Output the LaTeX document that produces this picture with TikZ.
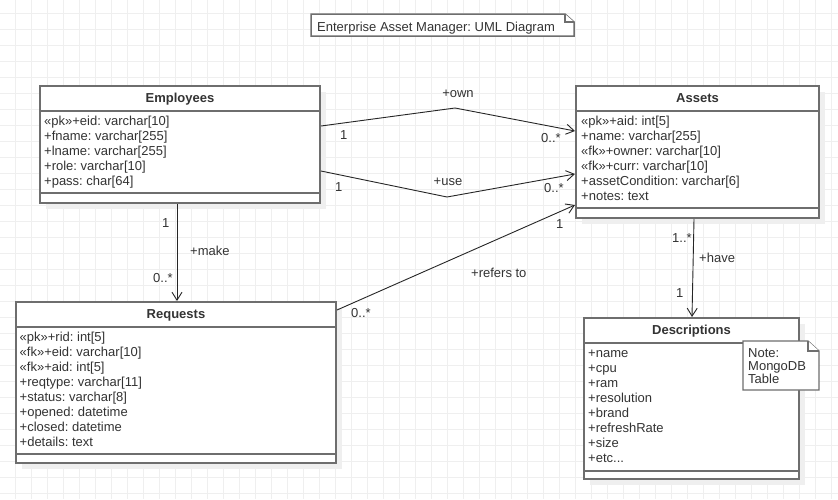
\documentclass[tikz,border=0pt]{standalone}
\usepackage{fontspec}
\setmainfont{Liberation Sans}
\frenchspacing
\usetikzlibrary{arrows.meta,shadows}
\definecolor{boxgray}{HTML}{6E6E6E}
\definecolor{gridgray}{HTML}{EFEFEF}
\definecolor{inkgray}{HTML}{333333}
\tikzset{
    classbox/.style={draw=boxgray, line width=2pt, fill=white, anchor=north west, inner sep=0pt,
        drop shadow={shadow xshift=6pt, shadow yshift=-6pt, fill=gridgray, opacity=1}},
    boxline/.style={draw=boxgray, line width=2pt},
    notebox/.style={draw=boxgray, line width=1.5pt, fill=white, line join=miter},
    gridline/.style={draw=gridgray, line width=1pt},
    classname/.style={anchor=base, inner sep=0pt, font=\fontsize{13}{15}\selectfont\bfseries, text=inkgray},
    attr/.style={anchor=base west, inner sep=0pt, text=inkgray},
    mult/.style={anchor=base west, inner sep=0pt, text=inkgray},
    assoc/.style={draw=black!85, line width=0.9pt},
    navarrow/.style={assoc, -{Straight Barb[length=8pt, width=10pt, line width=0.9pt]}}
}
\begin{document}
\begin{tikzpicture}[x=1pt, y=-1pt, font=\fontsize{13}{15}\selectfont]
        \useasboundingbox (0, 0) rectangle (838, 499);
        \fill[white] (0, 0) rectangle (838, 499);
        \foreach \gx in {15, 31, ..., 831}
            \draw[gridline] (\gx, 0) -- (\gx, 499);
        \foreach \gy in {13, 29, ..., 493}
            \draw[gridline] (0, \gy) -- (838, \gy);

        \draw[notebox] (311, 14) -- (565, 14) -- (574, 22) -- (574, 36) -- (311, 36) -- cycle;
        \draw[notebox] (565, 14) -- (565, 22) -- (574, 22);
        \node[attr] (title) at (317, 31) {Enterprise Asset Manager: UML Diagram};

        \node[classbox, minimum width=280pt, minimum height=117pt] (emp) at (39, 85) {};
        \draw[boxline] ([yshift=-26pt]emp.north west) -- ([yshift=-26pt]emp.north east);
        \draw[boxline] ([yshift=-108pt]emp.north west) -- ([yshift=-108pt]emp.north east);
        \node[classname] (empname) at ([yshift=-17pt]emp.north) {Employees};
        \foreach \txt [count=\i] in {{«pk»+eid: varchar[10]}, {+fname: varchar[255]},
                {+lname: varchar[255]}, {+role: varchar[10]}, {+pass: char[64]}}
            \node[attr] (emp-\i) at ([xshift=5pt, yshift={-25pt-15pt*\i}]emp.north west) {\txt};

        \node[classbox, minimum width=243pt, minimum height=132pt] (ast) at (575, 85) {};
        \draw[boxline] ([yshift=-26pt]ast.north west) -- ([yshift=-26pt]ast.north east);
        \draw[boxline] ([yshift=-123pt]ast.north west) -- ([yshift=-123pt]ast.north east);
        \node[classname] (astname) at ([yshift=-17pt]ast.north) {Assets};
        \foreach \txt [count=\i] in {{«pk»+aid: int[5]}, {+name: varchar[255]},
                {«fk»+owner: varchar[10]}, {«fk»+curr: varchar[10]},
                {+assetCondition: varchar[6]}, {+notes: text}}
            \node[attr] (ast-\i) at ([xshift=6pt, yshift={-25pt-15pt*\i}]ast.north west) {\txt};

        \node[classbox, minimum width=320pt, minimum height=161pt] (req) at (15, 301) {};
        \draw[boxline] ([yshift=-26pt]req.north west) -- ([yshift=-26pt]req.north east);
        \draw[boxline] ([yshift=-153pt]req.north west) -- ([yshift=-153pt]req.north east);
        \node[classname] (reqname) at ([yshift=-17pt]req.north) {Requests};
        \foreach \txt [count=\i] in {{«pk»+rid: int[5]}, {«fk»+eid: varchar[10]},
                {«fk»+aid: int[5]}, {+reqtype: varchar[11]}, {+status: varchar[8]},
                {+opened: datetime}, {+closed: datetime}, {+details: text}}
            \node[attr] (req-\i) at ([xshift=4.5pt, yshift={-25pt-15pt*\i}]req.north west) {\txt};

        \node[classbox, minimum width=215pt, minimum height=161pt] (desc) at (583, 317) {};
        \draw[boxline] ([yshift=-26pt]desc.north west) -- ([yshift=-26pt]desc.north east);
        \draw[boxline] ([yshift=-154pt]desc.north west) -- ([yshift=-154pt]desc.north east);
        \node[classname] (descname) at ([yshift=-17pt]desc.north) {Descriptions};
        \foreach \txt [count=\i] in {{+name}, {+cpu}, {+ram}, {+resolution}, {+brand},
                {+refreshRate}, {+size}, {+etc.{}.{}.}}
            \node[attr] (desc-\i) at ([xshift=5pt, yshift={-25pt-15pt*\i}]desc.north west) {\txt};

        \draw[notebox, line width=1.2pt] (743, 341) -- (808, 341) -- (819, 351) -- (819, 390) -- (743, 390) -- cycle;
        \draw[notebox, line width=1.2pt] (808, 341) -- (808, 351) -- (819, 351);
        \foreach \txt [count=\i] in {Note:, MongoDB, Table}
            \node[attr] (note-\i) at (748, {344 + 13*\i}) {\txt};

        \coordinate (ownbend) at (455, 108);
        \coordinate (usebend) at (447, 197);
        \draw[navarrow] ([yshift=-41pt]emp.north east) -- (ownbend) -- ([yshift=-46pt]ast.north west);
        \draw[navarrow] ([yshift=-86pt]emp.north east) -- (usebend) -- ([yshift=-89pt]ast.north west);
        \draw[navarrow] ([yshift=-9pt]req.north east) -- ([yshift=-120pt]ast.north west);
        \draw[navarrow] ([xshift=138pt]emp.south west) -- ([xshift=162pt]req.north west);
        \draw[navarrow] ([xshift=119pt]ast.south west) -- ([xshift=109pt]desc.north west);

        \node[mult, anchor=base] (ownlabel) at (458, 97) {+own};
        \node[mult] (ownsrc) at (340, 139) {1};
        \node[mult] (owndst) at (541, 142) {0..*};
        \node[mult, anchor=base] (uselabel) at (448, 185) {+use};
        \node[mult] (usesrc) at (335, 191) {1};
        \node[mult] (usedst) at (544, 192) {0..*};
        \node[mult] (reflabel) at (471, 277) {+refers to};
        \node[mult] (refsrc) at (351, 317) {0..*};
        \node[mult] (refdst) at (556, 228) {1};
        \node[mult] (makesrc) at (162, 227) {1};
        \node[mult] (makelabel) at (190, 255) {+make};
        \node[mult] (makedst) at (153, 282) {0..*};
        \node[mult] (havesrc) at (672, 242) {1..*};
        \node[mult] (havelabel) at (699, 262) {+have};
        \node[mult] (havedst) at (676, 297) {1};
    \end{tikzpicture}
\end{document}
